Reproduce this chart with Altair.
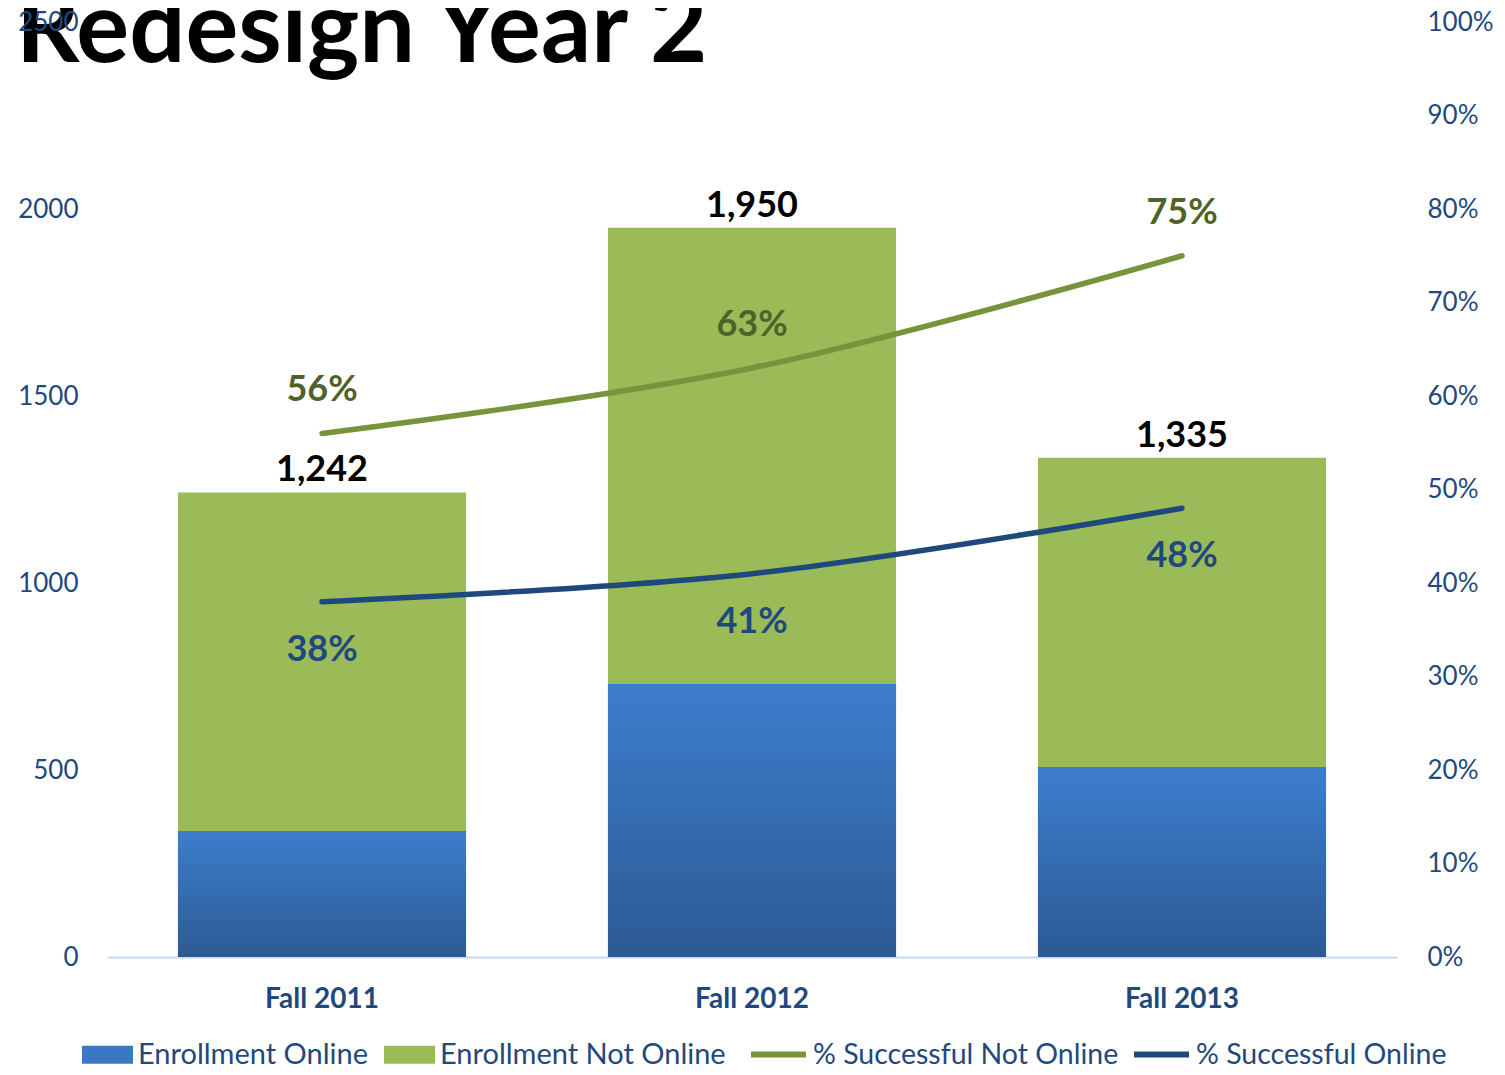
import altair as alt
import pandas as pd

categories = ["Fall 2011", "Fall 2012", "Fall 2013"]
enroll_online = [337, 730, 508]
enroll_total = [1242, 1950, 1335]
pct_not_online = [0.56, 0.63, 0.75]
pct_online = [0.38, 0.41, 0.48]

bar_series = ["Enrollment Online", "Enrollment Not Online"]
line_series = ["% Successful Not Online", "% Successful Online"]

FONT = "Lato"
AX = "#1F497D"

rows = []
for c, o, t in zip(categories, enroll_online, enroll_total):
    rows.append({"cat": c, "series": bar_series[0], "start": 0, "end": o, "total": t})
    rows.append({"cat": c, "series": bar_series[1], "start": o, "end": t, "total": t})
bars_df = pd.DataFrame(rows)
online_df = bars_df[bars_df.series == bar_series[0]]
tot_df = pd.DataFrame({"cat": categories, "total": enroll_total,
                       "label": [f"{v:,}" for v in enroll_total]})

lrows = []
for c, a, b in zip(categories, pct_not_online, pct_online):
    lrows.append({"cat": c, "series": line_series[0], "pct": a})
    lrows.append({"cat": c, "series": line_series[1], "pct": b})
lines_df = pd.DataFrame(lrows)

xenc = alt.X("cat:N", sort=categories,
             scale=alt.Scale(paddingInner=0.33, paddingOuter=0.165),
             axis=alt.Axis(title=None, labelAngle=0, ticks=False, domainColor="#C6D9F1",
                           domainWidth=2, labelFont=FONT, labelFontSize=28,
                           labelFontWeight="bold", labelColor=AX, labelPadding=28))

yleft = alt.Scale(domain=[0, 2500], nice=False)
yright = alt.Scale(domain=[0, 1], nice=False)

bar_path = "M-1,-0.35L1,-0.35L1,0.35L-1,0.35Z"

bars = alt.Chart(bars_df).mark_bar().encode(
    x=xenc,
    y=alt.Y("start:Q", scale=yleft,
            axis=alt.Axis(title=None, orient="left", values=[0, 500, 1000, 1500, 2000, 2500],
                          format="d", domain=False, ticks=False, grid=False, labelFont=FONT,
                          labelFontSize=26, labelColor=AX, labelPadding=29, zindex=2)),
    y2="end:Q",
    fill=alt.Fill("series:N", scale=alt.Scale(domain=bar_series, range=["#3A78C3", "#9BBB59"]),
                  legend=alt.Legend(title=None, orient="none", direction="horizontal",
                                    legendX=-25, legendY=1007, symbolType=bar_path,
                                    symbolSize=2601, symbolStrokeWidth=0, labelFont=FONT,
                                    labelFontSize=29, labelColor=AX, labelOffset=5,
                                    columnPadding=16, labelLimit=500, padding=0)),
)

grad = alt.Gradient(gradient="linear",
                    stops=[alt.GradientStop(color="#3C7ECD", offset=0),
                           alt.GradientStop(color="#2C5A94", offset=1)],
                    x1=0, x2=0, y1=0, y2=1)
online_bars = alt.Chart(online_df).mark_bar(color=grad).encode(
    x=alt.X("cat:N", sort=categories), y=alt.Y("start:Q"), y2="end:Q")

totals = alt.Chart(tot_df).mark_text(font=FONT, fontSize=36, fontWeight="bold",
                                     color="black", dy=-11, baseline="alphabetic").encode(
    x=alt.X("cat:N", sort=categories), y=alt.Y("total:Q"), text="label:N")

title = alt.Chart(pd.DataFrame({"t": ["Redesign Year 2"]})).mark_text(
    font=FONT, fontSize=99, fontWeight="bold", color="black", align="left",
    baseline="alphabetic").encode(x=alt.value(-91), y=alt.value(40), text="t:N")

left = alt.layer(bars, online_bars, totals)

lines = alt.Chart(lines_df).mark_line(strokeWidth=5.5, interpolate="catmull-rom",
                                      strokeCap="round").encode(
    x=alt.X("cat:N", sort=categories),
    y=alt.Y("pct:Q", scale=yright,
            axis=alt.Axis(title=None, orient="right", values=[i / 10 for i in range(11)],
                          format=".0%", domain=False, ticks=False, grid=False,
                          labelFont=FONT, labelFontSize=26, labelColor=AX,
                          labelPadding=30)),
    stroke=alt.Stroke("series:N", scale=alt.Scale(domain=line_series,
                                                  range=["#77933C", "#1F497D"]),
                      legend=alt.Legend(title=None, orient="none", direction="horizontal",
                                        legendX=641, legendY=1002, symbolType="stroke",
                                        symbolSize=3025, symbolStrokeWidth=6,
                                        labelFont=FONT, labelFontSize=28.5, labelColor=AX,
                                        labelOffset=4, columnPadding=3, labelLimit=500,
                                        padding=0)),
    detail="series:N",
)

pct_not = alt.Chart(lines_df[lines_df.series == line_series[0]]).mark_text(
    font=FONT, fontSize=36, fontWeight="bold", color="#4F6228", dy=-43,
    baseline="middle").encode(
    x=alt.X("cat:N", sort=categories), y=alt.Y("pct:Q"),
    text=alt.Text("pct:Q", format=".0%"))

pct_on = alt.Chart(lines_df[lines_df.series == line_series[1]]).mark_text(
    font=FONT, fontSize=36, fontWeight="bold", color="#1F497D", dy=48,
    baseline="middle").encode(
    x=alt.X("cat:N", sort=categories), y=alt.Y("pct:Q"),
    text=alt.Text("pct:Q", format=".0%"))

right = alt.layer(lines, pct_not, pct_on)

chart = alt.layer(title, left, right).resolve_scale(y="independent").properties(
    width=1290, height=935,
    autosize=alt.AutoSizeParams(type="none"),
    padding={"left": 99, "top": 14, "right": 100, "bottom": 108},
).configure_view(stroke=None)

chart.save("out.html", embed_options={"renderer": "svg", "actions": False})
